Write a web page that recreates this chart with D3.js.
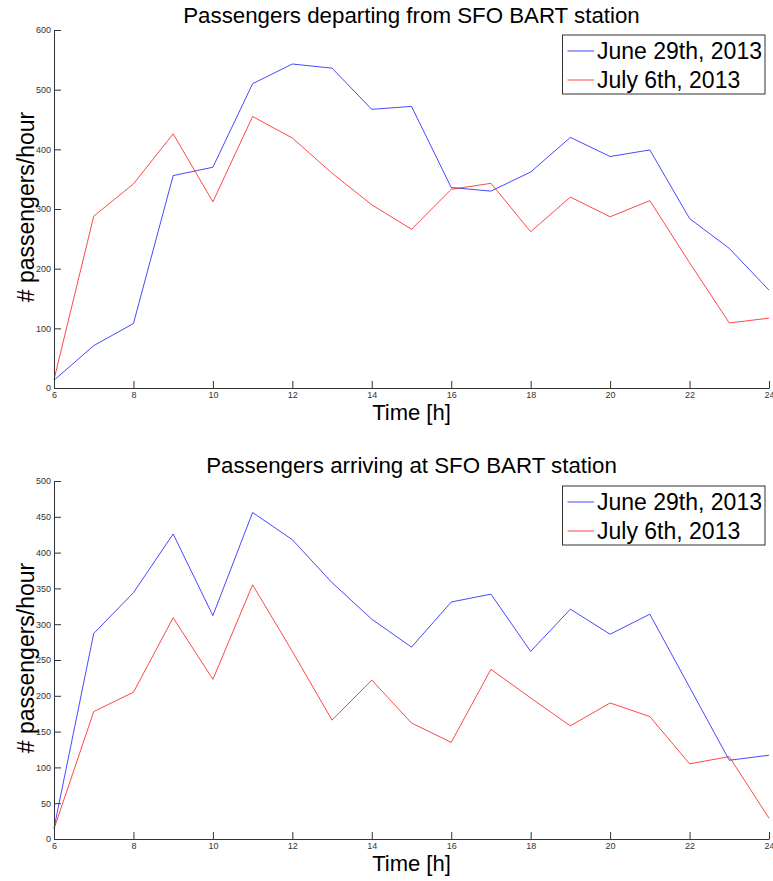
<!DOCTYPE html>
<html><head><meta charset="utf-8">
<script src="https://cdn.jsdelivr.net/npm/d3@7"></script>
<style>body{margin:0;background:#fff}svg{display:block}</style>
</head><body>
<script>
const hours = [6,7,8,9,10,11,12,13,14,15,16,17,18,19,20,21,22,23,24];
const seriesNames = ["June 29th, 2013","July 6th, 2013"];
const departJune29 = [13,71,108,356,370,510,543,536,467,472,336,330,362,420,388,399,284,234,164];
const departJuly6  = [14,288,342,426,312,455,419,360,307,266,333,343,262,320,287,314,210,109,117];
const arriveJune29 = [15,287,344,426,312,456,418,358,307,268,331,342,262,321,286,314,212,110,117];
const arriveJuly6  = [14,178,205,309,223,355,262,166,222,162,135,237,197,158,190,171,105,115,29];
const xTicks = [6,8,10,12,14,16,18,20,22,24];
const yTicksTop = [0,100,200,300,400,500,600];
const yTicksBottom = [0,50,100,150,200,250,300,350,400,450,500];
const titles = ["Passengers departing from SFO BART station","Passengers arriving at SFO BART station"];
const colors = ["#0000ff","#ff0000"];

const W = 773, H = 881;
const FONT = "Liberation Sans, Arial, sans-serif";
const svg = d3.select("body").append("svg").attr("width", W).attr("height", H);

function panel(top, bottom, ymax, yTicks, dataA, dataB, title, legendTop, titleBase) {
  const x = d3.scaleLinear().domain([6,24]).range([54,769]);
  const y = d3.scaleLinear().domain([0,ymax]).range([bottom, top]);
  const g = svg.append("g");
  const line = d3.line().x((d,i)=>x(hours[i])).y(d=>y(d));
  [dataA, dataB].forEach((d,k)=>{
    g.append("path").datum(d).attr("d", line).attr("fill","none")
      .attr("stroke", colors[k]).attr("stroke-width",0.9).attr("stroke-opacity",0.8);
  });
  const xa = g.append("g").attr("transform",`translate(0,${bottom})`)
    .call(d3.axisBottom(x).tickValues(xTicks).tickSizeInner(-7).tickSizeOuter(0).tickPadding(4).tickFormat(d3.format("d")));
  const ya = g.append("g").attr("transform",`translate(54,0)`)
    .call(d3.axisLeft(y).tickValues(yTicks).tickSizeInner(-7).tickSizeOuter(0).tickPadding(3).tickFormat(d3.format("d")));
  [xa,ya].forEach(a=>{
    a.select(".domain").attr("stroke","#333").attr("stroke-width",1);
    a.selectAll(".tick line").attr("stroke","#333");
    a.selectAll("text").attr("font-family",FONT).attr("font-size","9px").attr("fill","#333");
  });
  g.append("text").attr("x",411.5).attr("y",titleBase).attr("text-anchor","middle")
    .attr("font-family",FONT).attr("font-size","22.3px").attr("fill","#000").text(title);
  g.append("text").attr("x",411.5).attr("y",bottom+32).attr("text-anchor","middle")
    .attr("font-family",FONT).attr("font-size","22px").attr("fill","#000").text("Time [h]");
  g.append("text").attr("transform",`translate(34,${(top+bottom)/2-2}) rotate(-90)`).attr("text-anchor","middle")
    .attr("font-family",FONT).attr("font-size","23px").attr("fill","#000").text("# passengers/hour");
  const lg = g.append("g");
  lg.append("rect").attr("x",562.5).attr("y",legendTop).attr("width",202.5).attr("height",59)
    .attr("fill","#fff").attr("stroke","#333").attr("stroke-width",1);
  seriesNames.forEach((n,k)=>{
    const cy = legendTop + 16 + k*29;
    lg.append("line").attr("x1",567.5).attr("x2",594).attr("y1",cy).attr("y2",cy)
      .attr("stroke",colors[k]).attr("stroke-width",0.9).attr("stroke-opacity",0.8);
    lg.append("text").attr("x",597).attr("y",cy+8).attr("font-family",FONT)
      .attr("font-size","23px").attr("fill","#000").text(n);
  });
}

panel(30, 388, 600, yTicksTop, departJune29, departJuly6, titles[0], 35, 23);
panel(481, 839, 500, yTicksBottom, arriveJune29, arriveJuly6, titles[1], 486, 473);
</script>
</body></html>
